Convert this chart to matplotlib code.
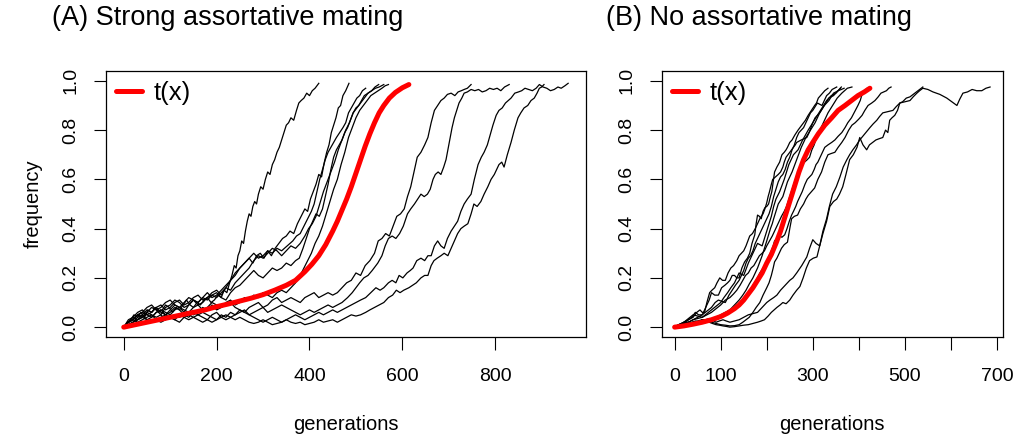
import matplotlib
matplotlib.use("Agg")
import matplotlib.pyplot as plt

plt.rcParams['font.family'] = ['Liberation Sans', 'DejaVu Sans']

# ---- (A) strong assortative mating: (generation, frequency)
a_red = [(0, 0), (25, 0.01), (50, 0.02), (75, 0.03), (100, 0.04), (125, 0.05), (150, 0.06), (175, 0.07),
         (200, 0.083), (225, 0.094), (250, 0.106), (275, 0.118), (300, 0.132), (325, 0.15), (350, 0.17),
         (370, 0.19), (390, 0.225), (405, 0.255), (420, 0.29), (435, 0.335), (450, 0.39), (460, 0.43),
         (470, 0.475), (480, 0.52), (490, 0.57), (500, 0.625), (510, 0.68), (520, 0.735), (530, 0.785),
         (540, 0.83), (550, 0.87), (560, 0.90), (572, 0.93), (585, 0.953), (600, 0.972), (614, 0.985)]
a_l1 = [(0, 0), (8, 0.02), (15, 0.03), (22, 0.05), (30, 0.04), (37, 0.06), (45, 0.04), (52, 0.07),
        (60, 0.06), (68, 0.08), (75, 0.06), (83, 0.07), (90, 0.09), (98, 0.08), (105, 0.06), (113, 0.08),
        (120, 0.07), (128, 0.09), (135, 0.11), (143, 0.09), (150, 0.08), (158, 0.10), (165, 0.09),
        (173, 0.11), (180, 0.12), (188, 0.10), (195, 0.11), (203, 0.13), (210, 0.12), (216, 0.15),
        (222, 0.14), (228, 0.18), (233, 0.21), (238, 0.25), (242, 0.24), (246, 0.29), (250, 0.31),
        (254, 0.35), (258, 0.34), (262, 0.39), (266, 0.43), (270, 0.46), (274, 0.45), (278, 0.49),
        (282, 0.51), (286, 0.50), (290, 0.54), (295, 0.57), (300, 0.56), (305, 0.60), (310, 0.63),
        (315, 0.62), (320, 0.66), (325, 0.68), (330, 0.71), (335, 0.73), (340, 0.76), (345, 0.79),
        (350, 0.82), (355, 0.83), (360, 0.85), (366, 0.84), (372, 0.88), (377, 0.91), (382, 0.92),
        (388, 0.93), (394, 0.95), (400, 0.94), (406, 0.96), (412, 0.97), (420, 0.99)]
a_g1 = [(0, 0), (10, 0.03), (20, 0.04), (30, 0.06), (40, 0.07), (50, 0.05), (60, 0.06), (70, 0.08),
        (80, 0.09), (90, 0.07), (100, 0.08), (110, 0.10), (120, 0.11), (130, 0.09), (140, 0.10),
        (150, 0.12), (160, 0.13), (170, 0.11), (180, 0.12), (190, 0.14), (200, 0.15), (210, 0.13),
        (220, 0.16), (230, 0.19), (240, 0.21), (250, 0.24), (260, 0.26), (270, 0.28), (278, 0.26),
        (286, 0.29), (294, 0.30), (302, 0.28), (310, 0.31), (318, 0.29), (326, 0.32), (334, 0.34),
        (342, 0.36), (350, 0.37), (358, 0.39), (366, 0.38), (374, 0.42), (382, 0.45), (390, 0.48),
        (396, 0.47), (402, 0.52), (408, 0.55), (414, 0.58), (420, 0.62), (426, 0.61), (432, 0.67),
        (437, 0.71), (442, 0.74), (447, 0.79), (452, 0.82), (457, 0.85), (462, 0.89), (467, 0.90),
        (472, 0.94), (478, 0.96), (485, 0.99)]
a_g2 = [(0, 0), (10, 0.02), (20, 0.03), (30, 0.05), (40, 0.04), (50, 0.06), (60, 0.08), (70, 0.07),
        (80, 0.05), (90, 0.08), (100, 0.09), (110, 0.11), (120, 0.10), (130, 0.08), (140, 0.09),
        (150, 0.11), (160, 0.10), (170, 0.12), (180, 0.14), (190, 0.12), (200, 0.13), (210, 0.15),
        (220, 0.17), (230, 0.19), (240, 0.22), (250, 0.24), (260, 0.26), (270, 0.28), (280, 0.30),
        (290, 0.28), (300, 0.29), (310, 0.31), (320, 0.30), (330, 0.32), (340, 0.31), (352, 0.33),
        (364, 0.35), (372, 0.37), (380, 0.38), (388, 0.41), (396, 0.44), (404, 0.47), (410, 0.50),
        (416, 0.55), (422, 0.60), (428, 0.64), (434, 0.68), (440, 0.71), (446, 0.73), (452, 0.75),
        (458, 0.77), (465, 0.79), (472, 0.81), (478, 0.83), (484, 0.87), (490, 0.89), (496, 0.91),
        (502, 0.93), (508, 0.94), (514, 0.96), (521, 0.97)]
a_g3 = [(0, 0), (10, 0.02), (20, 0.03), (30, 0.05), (40, 0.06), (50, 0.08), (60, 0.09), (70, 0.07),
        (80, 0.08), (90, 0.10), (100, 0.11), (110, 0.09), (120, 0.08), (130, 0.10), (140, 0.12),
        (150, 0.11), (160, 0.09), (170, 0.10), (180, 0.12), (190, 0.13), (200, 0.14), (210, 0.12),
        (220, 0.11), (230, 0.14), (240, 0.16), (250, 0.17), (260, 0.19), (270, 0.21), (280, 0.23),
        (290, 0.21), (300, 0.20), (310, 0.22), (320, 0.24), (330, 0.23), (340, 0.24), (350, 0.26),
        (360, 0.25), (370, 0.27), (378, 0.28), (386, 0.32), (393, 0.36), (400, 0.40), (407, 0.43),
        (414, 0.46), (421, 0.45), (428, 0.48), (434, 0.53), (440, 0.58), (446, 0.64), (452, 0.69),
        (458, 0.72), (464, 0.74), (470, 0.76), (476, 0.79), (482, 0.81), (488, 0.84), (494, 0.87),
        (500, 0.89), (506, 0.90), (512, 0.92), (518, 0.94), (526, 0.95), (534, 0.96), (541, 0.975),
        (549, 0.985)]
a_g4 = [(0, 0), (10, 0.01), (20, 0.02), (30, 0.04), (40, 0.05), (50, 0.03), (60, 0.04), (70, 0.06),
        (80, 0.07), (90, 0.05), (100, 0.06), (110, 0.08), (120, 0.07), (130, 0.05), (140, 0.06),
        (150, 0.08), (160, 0.09), (170, 0.07), (180, 0.08), (190, 0.10), (200, 0.09), (210, 0.08),
        (220, 0.10), (230, 0.11), (240, 0.09), (250, 0.10), (260, 0.12), (270, 0.11), (280, 0.13),
        (290, 0.12), (300, 0.14), (310, 0.13), (320, 0.12), (330, 0.14), (340, 0.15), (350, 0.14),
        (360, 0.16), (370, 0.18), (380, 0.21), (388, 0.24), (396, 0.27), (404, 0.30), (412, 0.34),
        (420, 0.37), (428, 0.41), (436, 0.46), (444, 0.51), (452, 0.56), (460, 0.60), (468, 0.66),
        (476, 0.71), (484, 0.77), (492, 0.81), (500, 0.85), (508, 0.88), (516, 0.90), (524, 0.92),
        (532, 0.94), (540, 0.95), (548, 0.96), (556, 0.97), (563, 0.98), (570, 0.985)]
a_g5 = [(0, 0), (10, 0.02), (20, 0.04), (30, 0.03), (40, 0.05), (50, 0.07), (60, 0.06), (70, 0.08),
        (80, 0.06), (90, 0.05), (100, 0.07), (110, 0.09), (120, 0.08), (130, 0.06), (140, 0.09),
        (150, 0.11), (160, 0.10), (170, 0.12), (180, 0.11), (190, 0.13), (200, 0.12), (210, 0.14),
        (220, 0.16), (230, 0.15), (240, 0.18), (250, 0.20), (260, 0.22), (270, 0.24), (280, 0.27),
        (290, 0.29), (300, 0.28), (310, 0.30), (320, 0.32), (330, 0.31), (340, 0.29), (350, 0.31),
        (360, 0.33), (370, 0.32), (380, 0.34), (390, 0.37), (398, 0.40), (406, 0.42), (414, 0.45),
        (422, 0.50), (430, 0.55), (438, 0.59), (446, 0.63), (454, 0.67), (462, 0.72), (470, 0.76),
        (478, 0.80), (486, 0.83), (494, 0.87), (502, 0.89), (510, 0.91), (518, 0.93), (526, 0.95),
        (534, 0.96), (542, 0.97), (550, 0.975), (560, 0.985)]
a_a = [(0, 0), (10, 0.02), (20, 0.03), (30, 0.05), (40, 0.06), (50, 0.05), (60, 0.04), (70, 0.06),
       (80, 0.07), (90, 0.06), (100, 0.05), (110, 0.07), (120, 0.08), (130, 0.07), (140, 0.06),
       (150, 0.05), (160, 0.06), (170, 0.08), (180, 0.07), (190, 0.09), (200, 0.07), (210, 0.08),
       (220, 0.09), (230, 0.10), (240, 0.08), (250, 0.07), (260, 0.06), (270, 0.08), (280, 0.09),
       (290, 0.10), (300, 0.08), (310, 0.09), (320, 0.11), (330, 0.12), (340, 0.10), (350, 0.11),
       (360, 0.12), (370, 0.11), (380, 0.10), (390, 0.12), (400, 0.13), (410, 0.14), (420, 0.12),
       (430, 0.13), (440, 0.14), (450, 0.13), (460, 0.14), (470, 0.16), (480, 0.18), (490, 0.19),
       (500, 0.22), (510, 0.21), (520, 0.25), (530, 0.27), (540, 0.30), (548, 0.35), (556, 0.36),
       (564, 0.38), (572, 0.37), (580, 0.41), (588, 0.45), (596, 0.46), (604, 0.48), (611, 0.53),
       (618, 0.57), (625, 0.63), (632, 0.69), (640, 0.71), (648, 0.74), (655, 0.77), (662, 0.83),
       (669, 0.88), (676, 0.90), (683, 0.92), (690, 0.93), (697, 0.945), (705, 0.95), (713, 0.94),
       (720, 0.955), (727, 0.96), (733, 0.965), (740, 0.97), (748, 0.985)]
a_b = [(0, 0), (10, 0.01), (20, 0.02), (30, 0.03), (40, 0.04), (50, 0.06), (60, 0.05), (70, 0.04),
       (80, 0.05), (90, 0.03), (100, 0.04), (110, 0.05), (120, 0.04), (130, 0.05), (140, 0.04),
       (150, 0.06), (160, 0.05), (170, 0.06), (180, 0.05), (190, 0.04), (200, 0.03), (210, 0.05),
       (220, 0.04), (230, 0.06), (240, 0.05), (250, 0.06), (260, 0.07), (270, 0.05), (280, 0.06),
       (290, 0.07), (300, 0.08), (310, 0.06), (320, 0.07), (330, 0.08), (340, 0.09), (350, 0.08),
       (360, 0.07), (370, 0.06), (380, 0.05), (390, 0.06), (400, 0.07), (410, 0.06), (420, 0.07),
       (430, 0.08), (440, 0.09), (450, 0.08), (460, 0.09), (470, 0.10), (482, 0.12), (492, 0.14),
       (500, 0.16), (508, 0.18), (517, 0.20), (526, 0.21), (535, 0.23), (547, 0.26), (556, 0.29),
       (563, 0.33), (570, 0.36), (578, 0.37), (586, 0.36), (594, 0.38), (602, 0.41), (611, 0.46),
       (618, 0.48), (626, 0.50), (633, 0.52), (640, 0.54), (647, 0.53), (654, 0.54), (660, 0.56),
       (666, 0.60), (671, 0.62), (677, 0.63), (683, 0.62), (689, 0.65), (694, 0.68), (698, 0.72),
       (702, 0.76), (707, 0.81), (712, 0.85), (717, 0.88), (722, 0.91), (728, 0.93), (733, 0.95),
       (740, 0.955), (748, 0.965), (756, 0.96), (764, 0.965), (772, 0.955), (780, 0.96), (788, 0.97),
       (796, 0.965), (804, 0.97), (812, 0.96), (820, 0.975), (830, 0.985)]
a_c = [(0, 0), (10, 0.02), (20, 0.03), (30, 0.02), (40, 0.03), (50, 0.04), (60, 0.05), (70, 0.03),
       (80, 0.04), (90, 0.05), (100, 0.04), (110, 0.03), (120, 0.05), (130, 0.04), (140, 0.03),
       (150, 0.04), (160, 0.05), (170, 0.04), (180, 0.03), (190, 0.05), (200, 0.06), (210, 0.04),
       (220, 0.03), (230, 0.04), (240, 0.05), (250, 0.07), (260, 0.06), (270, 0.05), (280, 0.04),
       (290, 0.03), (300, 0.02), (310, 0.03), (320, 0.04), (330, 0.03), (340, 0.02), (350, 0.03),
       (360, 0.04), (370, 0.05), (380, 0.04), (390, 0.03), (400, 0.04), (410, 0.05), (420, 0.06),
       (430, 0.05), (440, 0.06), (450, 0.07), (460, 0.06), (470, 0.07), (480, 0.08), (490, 0.09),
       (500, 0.10), (510, 0.11), (521, 0.12), (532, 0.14), (543, 0.16), (552, 0.15), (560, 0.16),
       (570, 0.18), (578, 0.19), (586, 0.18), (593, 0.21), (601, 0.20), (610, 0.22), (617, 0.23),
       (623, 0.24), (631, 0.27), (640, 0.28), (648, 0.27), (655, 0.29), (662, 0.29), (669, 0.33),
       (676, 0.35), (683, 0.33), (690, 0.32), (697, 0.36), (705, 0.39), (712, 0.41), (719, 0.43),
       (726, 0.47), (733, 0.50), (740, 0.52), (748, 0.54), (755, 0.60), (763, 0.66), (770, 0.69),
       (776, 0.71), (783, 0.74), (789, 0.78), (795, 0.82), (802, 0.86), (808, 0.88), (815, 0.89),
       (822, 0.91), (828, 0.92), (834, 0.93), (842, 0.95), (850, 0.955), (857, 0.96), (864, 0.97),
       (872, 0.965), (880, 0.96), (888, 0.97), (895, 0.985), (903, 0.975), (911, 0.97), (919, 0.96),
       (927, 0.965), (935, 0.975), (942, 0.97), (950, 0.98), (957, 0.99)]
a_d = [(0, 0), (10, 0.01), (20, 0.02), (30, 0.03), (40, 0.04), (50, 0.03), (60, 0.02), (70, 0.03),
       (80, 0.02), (90, 0.03), (100, 0.04), (110, 0.03), (120, 0.02), (130, 0.04), (140, 0.05),
       (150, 0.04), (160, 0.03), (170, 0.02), (180, 0.03), (190, 0.02), (200, 0.03), (210, 0.04),
       (220, 0.05), (230, 0.04), (240, 0.03), (250, 0.04), (260, 0.03), (270, 0.02), (280, 0.015),
       (290, 0.02), (300, 0.03), (310, 0.02), (320, 0.01), (330, 0.015), (340, 0.02), (350, 0.03),
       (360, 0.02), (370, 0.015), (380, 0.02), (390, 0.01), (400, 0.015), (410, 0.02), (420, 0.03),
       (430, 0.02), (440, 0.025), (450, 0.03), (460, 0.02), (470, 0.03), (480, 0.04), (490, 0.05),
       (500, 0.045), (510, 0.05), (521, 0.06), (530, 0.07), (540, 0.08), (550, 0.09), (560, 0.10),
       (570, 0.12), (579, 0.13), (587, 0.15), (595, 0.14), (603, 0.15), (614, 0.16), (622, 0.17),
       (630, 0.18), (640, 0.20), (648, 0.21), (655, 0.21), (662, 0.25), (668, 0.27), (675, 0.28),
       (683, 0.29), (690, 0.30), (698, 0.29), (705, 0.32), (712, 0.35), (719, 0.38), (726, 0.40),
       (733, 0.41), (741, 0.42), (748, 0.46), (754, 0.50), (761, 0.49), (769, 0.51), (776, 0.54),
       (784, 0.57), (791, 0.60), (798, 0.62), (803, 0.64), (808, 0.66), (814, 0.67), (819, 0.65),
       (826, 0.70), (834, 0.75), (841, 0.80), (849, 0.85), (855, 0.87), (862, 0.89), (870, 0.90),
       (877, 0.92), (884, 0.93), (890, 0.95), (895, 0.97), (900, 0.975), (905, 0.985)]
a_black = [a_l1, a_g1, a_g2, a_g3, a_g4, a_g5, a_a, a_b, a_c, a_d]

# ---- (B) no assortative mating
b_red = [(0, 0), (20, 0.005), (40, 0.012), (60, 0.02), (80, 0.03), (100, 0.043), (115, 0.057),
         (130, 0.075), (140, 0.09), (150, 0.11), (160, 0.135), (170, 0.16), (180, 0.19), (190, 0.22),
         (200, 0.26), (210, 0.295), (220, 0.34), (230, 0.39), (240, 0.45), (250, 0.51), (260, 0.57),
         (270, 0.63), (280, 0.68), (290, 0.72), (300, 0.75), (312, 0.785), (326, 0.82), (341, 0.85),
         (355, 0.88), (370, 0.90), (384, 0.92), (398, 0.94), (412, 0.955), (424, 0.97)]
b_f1 = [(0, 0), (8, 0.005), (15, 0.01), (22, 0.02), (30, 0.03), (37, 0.04), (45, 0.06), (52, 0.05),
        (60, 0.05), (65, 0.07), (70, 0.09), (75, 0.11), (80, 0.14), (87, 0.13), (95, 0.13), (102, 0.16),
        (109, 0.17), (115, 0.18), (120, 0.19), (125, 0.21), (130, 0.21), (135, 0.20), (140, 0.20),
        (146, 0.24), (152, 0.265), (158, 0.28), (163, 0.30), (168, 0.34), (174, 0.375), (177, 0.42),
        (180, 0.455), (184, 0.45), (188, 0.44), (192, 0.47), (196, 0.485), (200, 0.49), (204, 0.50),
        (208, 0.53), (211, 0.55), (214, 0.59), (217, 0.63), (222, 0.65), (228, 0.67), (233, 0.70),
        (238, 0.71), (242, 0.72), (245, 0.73), (250, 0.75), (255, 0.76), (261, 0.78), (268, 0.80),
        (272, 0.81), (276, 0.82), (280, 0.83), (284, 0.84), (290, 0.86), (297, 0.88), (304, 0.90),
        (308, 0.91), (312, 0.93), (319, 0.945), (326, 0.96), (333, 0.97)]
b_f2 = [(0, 0), (10, 0.01), (20, 0.02), (30, 0.03), (40, 0.04), (48, 0.06), (55, 0.07), (60, 0.06),
        (65, 0.06), (70, 0.10), (76, 0.14), (81, 0.15), (87, 0.16), (92, 0.18), (98, 0.20), (104, 0.19),
        (110, 0.19), (116, 0.22), (122, 0.24), (128, 0.25), (135, 0.27), (140, 0.29), (145, 0.30),
        (150, 0.31), (155, 0.33), (159, 0.35), (163, 0.37), (169, 0.38), (175, 0.40), (180, 0.42),
        (185, 0.44), (188, 0.45), (192, 0.46), (196, 0.48), (200, 0.505), (203, 0.53), (206, 0.55),
        (210, 0.58), (213, 0.60), (219, 0.61), (225, 0.62), (230, 0.63), (235, 0.65), (238, 0.67),
        (242, 0.69), (246, 0.70), (250, 0.71), (254, 0.72), (258, 0.73), (262, 0.74), (265, 0.75),
        (270, 0.755), (275, 0.76), (281, 0.765), (287, 0.77), (292, 0.79), (296, 0.81), (300, 0.83),
        (305, 0.85), (310, 0.86), (315, 0.87), (320, 0.885), (325, 0.90), (330, 0.91), (335, 0.92),
        (340, 0.935), (345, 0.95), (350, 0.955), (355, 0.96), (362, 0.975)]
b_f3 = [(0, 0), (10, 0.01), (20, 0.015), (30, 0.02), (40, 0.03), (50, 0.04), (60, 0.05), (70, 0.065),
        (80, 0.08), (88, 0.10), (95, 0.11), (102, 0.105), (110, 0.10), (118, 0.13), (125, 0.15),
        (132, 0.17), (140, 0.19), (145, 0.21), (150, 0.23), (155, 0.26), (160, 0.28), (165, 0.29),
        (170, 0.31), (175, 0.34), (180, 0.36), (185, 0.38), (190, 0.40), (195, 0.42), (200, 0.44),
        (205, 0.46), (210, 0.49), (215, 0.53), (220, 0.56), (225, 0.59), (230, 0.61), (235, 0.62),
        (240, 0.64), (245, 0.67), (250, 0.69), (255, 0.72), (260, 0.74), (265, 0.77), (270, 0.79),
        (275, 0.80), (280, 0.81), (285, 0.83), (290, 0.85), (295, 0.87), (300, 0.88), (305, 0.895),
        (310, 0.91), (315, 0.905), (320, 0.90), (325, 0.92), (330, 0.94), (336, 0.95), (342, 0.965),
        (347, 0.97), (352, 0.975)]
b_f4 = [(0, 0), (10, 0.005), (20, 0.01), (30, 0.02), (40, 0.03), (50, 0.035), (60, 0.04), (70, 0.05),
        (80, 0.06), (90, 0.075), (100, 0.09), (110, 0.11), (120, 0.12), (128, 0.135), (135, 0.15),
        (142, 0.17), (148, 0.19), (154, 0.21), (160, 0.22), (166, 0.24), (172, 0.25), (178, 0.27),
        (184, 0.29), (190, 0.30), (195, 0.31), (200, 0.33), (206, 0.35), (212, 0.37), (217, 0.39),
        (222, 0.41), (227, 0.43), (232, 0.45), (238, 0.47), (243, 0.49), (250, 0.53), (257, 0.57),
        (264, 0.61), (272, 0.65), (277, 0.66), (282, 0.67), (288, 0.68), (293, 0.69), (298, 0.72),
        (303, 0.74), (308, 0.77), (313, 0.79), (318, 0.81), (323, 0.83), (328, 0.85), (333, 0.87),
        (338, 0.885), (343, 0.90), (348, 0.915), (353, 0.93), (358, 0.94), (363, 0.95), (369, 0.96),
        (375, 0.97), (385, 0.975)]
b_f5 = [(0, 0), (10, 0.005), (20, 0.01), (30, 0.015), (40, 0.02), (50, 0.025), (60, 0.03), (70, 0.03),
        (80, 0.025), (90, 0.03), (100, 0.04), (110, 0.05), (120, 0.06), (130, 0.075), (140, 0.09),
        (148, 0.10), (155, 0.12), (162, 0.14), (170, 0.17), (177, 0.19), (185, 0.22), (192, 0.24),
        (200, 0.27), (205, 0.29), (210, 0.31), (214, 0.33), (217, 0.35), (222, 0.36), (228, 0.37),
        (233, 0.365), (239, 0.375), (244, 0.40), (249, 0.43), (254, 0.455), (258, 0.47), (263, 0.49),
        (267, 0.51), (272, 0.53), (277, 0.55), (283, 0.58), (288, 0.60), (293, 0.61), (298, 0.62),
        (303, 0.64), (307, 0.66), (311, 0.67), (316, 0.69), (321, 0.71), (326, 0.73), (333, 0.74),
        (341, 0.75), (348, 0.76), (355, 0.775), (363, 0.79), (370, 0.81), (376, 0.83), (384, 0.85),
        (391, 0.875), (398, 0.90), (403, 0.92), (407, 0.945), (412, 0.96), (418, 0.97)]
b_f6 = [(0, 0), (10, 0.01), (20, 0.02), (30, 0.02), (40, 0.015), (50, 0.02), (60, 0.03), (70, 0.025),
        (80, 0.02), (90, 0.015), (100, 0.01), (110, 0.008), (120, 0.005), (130, 0.006), (140, 0.01),
        (148, 0.02), (155, 0.03), (162, 0.04), (170, 0.06), (177, 0.08), (185, 0.10), (192, 0.13),
        (200, 0.16), (205, 0.18), (210, 0.21), (214, 0.24), (217, 0.265), (222, 0.28), (227, 0.30),
        (232, 0.32), (238, 0.335), (245, 0.345), (250, 0.40), (254, 0.44), (260, 0.45), (267, 0.455),
        (273, 0.48), (280, 0.50), (285, 0.52), (290, 0.535), (297, 0.55), (304, 0.565), (311, 0.60),
        (319, 0.63), (326, 0.67), (333, 0.70), (340, 0.705), (348, 0.71), (355, 0.73), (363, 0.75),
        (370, 0.77), (378, 0.80), (385, 0.82), (392, 0.83), (400, 0.845), (407, 0.86), (413, 0.88),
        (420, 0.90), (428, 0.91), (435, 0.92), (442, 0.935), (448, 0.95), (454, 0.955), (460, 0.96),
        (465, 0.97), (470, 0.975)]
b_f7 = [(0, 0), (10, 0.01), (20, 0.02), (30, 0.035), (40, 0.05), (50, 0.045), (60, 0.04), (70, 0.055),
        (80, 0.07), (90, 0.085), (100, 0.10), (107, 0.12), (115, 0.14), (122, 0.16), (130, 0.18),
        (135, 0.20), (140, 0.22), (145, 0.215), (150, 0.21), (155, 0.235), (160, 0.26), (165, 0.28),
        (170, 0.30), (175, 0.32), (180, 0.34), (185, 0.335), (190, 0.33), (195, 0.36), (200, 0.39),
        (205, 0.42), (210, 0.45), (215, 0.49), (220, 0.52), (224, 0.535), (228, 0.55), (233, 0.575),
        (238, 0.60), (243, 0.63), (248, 0.66), (253, 0.68), (258, 0.70), (263, 0.71), (268, 0.72),
        (273, 0.74), (278, 0.76), (284, 0.78), (290, 0.80), (295, 0.815), (300, 0.83), (305, 0.845),
        (310, 0.86), (315, 0.875), (320, 0.89), (325, 0.905), (330, 0.92), (335, 0.93), (340, 0.94),
        (345, 0.945), (350, 0.95), (355, 0.96), (360, 0.97)]
b_f8 = [(0, 0), (10, 0.005), (20, 0.01), (30, 0.015), (40, 0.02), (50, 0.02), (60, 0.015), (70, 0.02),
        (80, 0.03), (90, 0.04), (100, 0.05), (110, 0.06), (120, 0.07), (130, 0.09), (140, 0.11),
        (148, 0.13), (155, 0.15), (162, 0.175), (170, 0.20), (175, 0.22), (180, 0.24), (185, 0.265),
        (190, 0.29), (195, 0.32), (200, 0.35), (204, 0.375), (208, 0.40), (212, 0.42), (215, 0.44),
        (220, 0.47), (225, 0.50), (230, 0.515), (235, 0.53), (240, 0.56), (245, 0.59), (250, 0.61),
        (255, 0.63), (260, 0.655), (265, 0.68), (270, 0.705), (275, 0.73), (280, 0.75), (285, 0.77),
        (290, 0.785), (295, 0.80), (300, 0.815), (305, 0.83), (310, 0.85), (315, 0.87), (320, 0.885),
        (325, 0.90), (330, 0.915), (335, 0.93), (340, 0.935), (345, 0.94), (350, 0.95), (355, 0.96),
        (362, 0.965), (368, 0.97)]
b_s1 = [(0, 0), (8, 0.005), (15, 0.01), (22, 0.015), (30, 0.02), (38, 0.018), (45, 0.015), (52, 0.02),
        (60, 0.03), (67, 0.025), (75, 0.02), (82, 0.015), (90, 0.01), (97, 0.008), (105, 0.005),
        (112, 0.003), (120, 0.0), (130, 0.002), (140, 0.005), (150, 0.008), (160, 0.01), (170, 0.015),
        (180, 0.02), (188, 0.025), (195, 0.03), (203, 0.045), (210, 0.06), (216, 0.07), (222, 0.08),
        (229, 0.09), (235, 0.10), (242, 0.095), (250, 0.11), (257, 0.13), (265, 0.15), (272, 0.165),
        (279, 0.20), (286, 0.24), (293, 0.27), (301, 0.28), (309, 0.285), (315, 0.33), (322, 0.38),
        (330, 0.43), (337, 0.49), (345, 0.51), (352, 0.52), (358, 0.54), (365, 0.57), (372, 0.62),
        (380, 0.68), (388, 0.70), (396, 0.73), (402, 0.77), (409, 0.74), (417, 0.72), (423, 0.74),
        (430, 0.75), (437, 0.76), (444, 0.765), (452, 0.77), (458, 0.80), (463, 0.79), (467, 0.84),
        (472, 0.85), (478, 0.86), (484, 0.88), (489, 0.91), (495, 0.915), (503, 0.93), (511, 0.935),
        (518, 0.945), (525, 0.955), (532, 0.965), (539, 0.975)]
b_s2 = [(0, 0), (8, 0.01), (15, 0.015), (22, 0.012), (30, 0.01), (38, 0.02), (45, 0.025), (52, 0.022),
        (60, 0.02), (67, 0.03), (75, 0.035), (82, 0.028), (90, 0.02), (97, 0.025), (105, 0.03),
        (112, 0.025), (120, 0.02), (130, 0.025), (140, 0.03), (150, 0.04), (160, 0.05), (170, 0.055),
        (180, 0.06), (190, 0.08), (200, 0.10), (207, 0.11), (215, 0.12), (222, 0.13), (230, 0.15),
        (240, 0.17), (250, 0.19), (257, 0.20), (265, 0.22), (276, 0.25), (287, 0.285), (293, 0.32),
        (300, 0.355), (307, 0.34), (315, 0.33), (322, 0.39), (330, 0.44), (336, 0.49), (343, 0.54),
        (351, 0.57), (359, 0.61), (366, 0.65), (374, 0.68), (380, 0.70), (387, 0.72), (395, 0.74),
        (402, 0.76), (413, 0.785), (424, 0.81), (431, 0.825), (439, 0.84), (445, 0.855), (452, 0.87),
        (463, 0.875), (474, 0.88), (481, 0.895), (489, 0.91), (500, 0.915), (511, 0.92), (518, 0.935),
        (526, 0.95), (532, 0.96), (539, 0.97), (550, 0.965), (561, 0.955), (576, 0.945), (591, 0.93),
        (602, 0.915), (613, 0.90), (619, 0.925), (626, 0.95), (636, 0.955), (646, 0.965), (656, 0.96),
        (667, 0.96), (676, 0.97), (685, 0.975)]
b_black = [b_f1, b_f2, b_f3, b_f4, b_f5, b_f6, b_f7, b_f8, b_s1, b_s2]

titles = ['(A) Strong assortative mating', '(B) No assortative mating']
y_ticks = [0.0, 0.2, 0.4, 0.6, 0.8, 1.0]
a_xticks = [0, 200, 400, 600, 800]
b_xticks = [0, 100, 200, 300, 400, 500, 600, 700]
b_xticklabels = ['0', '100', '', '300', '', '500', '', '700']

fig = plt.figure(figsize=(10.16, 4.38), dpi=100)
ax1 = fig.add_axes([0.1043, 0.2306, 0.4724, 0.6073])
ax2 = fig.add_axes([0.6516, 0.2306, 0.3353, 0.6073])


def draw(ax, black, red):
    for tr in black:
        ax.plot([p[0] for p in tr], [p[1] for p in tr], color='black', lw=0.9)
    ax.plot([p[0] for p in red], [p[1] for p in red], color='red', lw=3.6,
            solid_capstyle='round', solid_joinstyle='round', label='t(x)')
    xmax = max(p[0] for tr in black + [red] for p in tr)
    ax.set_xlim(-0.04 * xmax, 1.04 * xmax)
    ax.set_ylim(-0.04, 1.04)
    ax.set_yticks(y_ticks)
    ax.set_yticklabels(['%.1f' % v for v in y_ticks], rotation=90, va='center')
    ax.tick_params(labelsize=14, length=9, width=0.8, pad=10)
    ax.tick_params(axis='x', pad=13)
    for s in ax.spines.values():
        s.set_linewidth(0.9)
    ax.set_xlabel('generations', fontsize=14.5, labelpad=22)
    ax.legend(loc='upper left', frameon=False, fontsize=18.5, handlelength=1.0,
              handletextpad=0.45, borderaxespad=0.2, borderpad=0.2)


draw(ax1, a_black, a_red)
ax1.set_xticks(a_xticks)
ax1.set_ylabel('frequency', fontsize=14.5, labelpad=14)

draw(ax2, b_black, b_red)
ax2.set_xticks(b_xticks)
ax2.set_xticklabels(b_xticklabels)

fig.text(52 / 1016, 1 - 18 / 438, titles[0], fontsize=19.5, ha='left', va='center')
fig.text(606 / 1016, 1 - 18 / 438, titles[1], fontsize=19.5, ha='left', va='center')

fig.savefig('out.png', dpi=100)
